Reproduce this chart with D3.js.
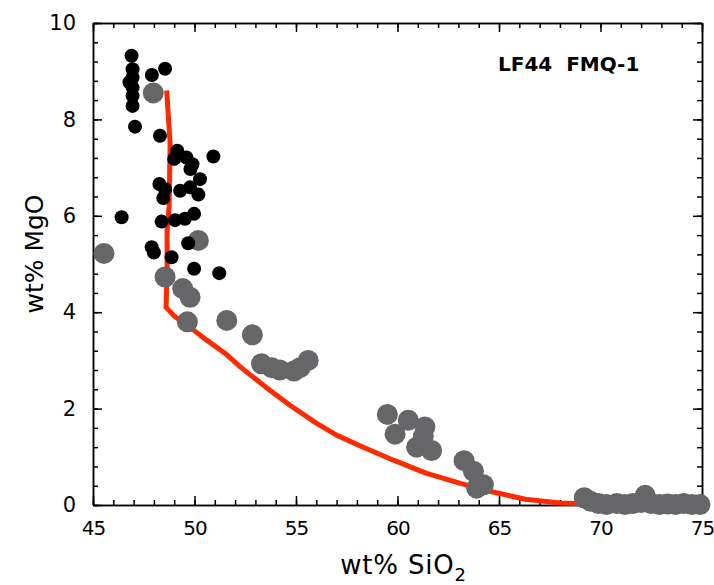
<!DOCTYPE html>
<html>
<head>
<meta charset="utf-8">
<script src="https://cdn.jsdelivr.net/npm/d3@7"></script>
<style>
    body { margin: 0; background: #fff; }
    .axis path, .axis line { stroke: #000; stroke-width: 1.5; }
    .axis text { font-family: "DejaVu Sans", sans-serif; font-size: 21px; fill: #000; }
    .x.axis text { font-size: 20px; letter-spacing: -1px; }
    .title { font-family: "DejaVu Sans", sans-serif; font-size: 25px; fill: #000; }
</style>
</head>
<body>
<script>

// black dots (sample data)
var blackSiO2 = [46.9, 46.95, 46.95, 46.8, 46.95, 46.95, 46.95, 47.9, 48.55, 47.07, 48.3,
    49.15, 49.0, 49.6, 49.9, 49.8, 50.93, 50.27, 48.27, 48.55, 49.29, 49.78, 50.19, 48.46,
    46.41, 48.38, 49.04, 49.53, 49.98, 49.69, 47.89, 48.0, 48.87, 49.98, 51.22];
var blackMgO = [9.32, 9.04, 8.87, 8.77, 8.66, 8.49, 8.28, 8.92, 9.05, 7.85, 7.66,
    7.35, 7.18, 7.21, 7.07, 6.97, 7.23, 6.76, 6.66, 6.55, 6.52, 6.59, 6.44, 6.37,
    5.97, 5.88, 5.91, 5.94, 6.04, 5.43, 5.35, 5.24, 5.14, 4.90, 4.81];

// grey dots (glasses)
var greySiO2 = [47.97, 45.54, 50.19, 48.55, 49.42, 49.78, 49.65, 51.59, 52.85,
    53.3, 53.8, 54.2, 54.9, 55.2, 55.6,
    59.5, 60.53, 59.88, 61.35, 61.27, 60.94, 61.68, 63.28, 63.74, 63.9, 64.23,
    69.2, 69.5, 69.9, 70.3, 70.8, 71.2, 71.6, 72.0, 72.2, 72.5, 72.9, 73.3, 73.7, 74.1, 74.5, 74.9];
var greyMgO = [8.55, 5.22, 5.49, 4.73, 4.49, 4.31, 3.80, 3.83, 3.53,
    2.93, 2.85, 2.80, 2.78, 2.85, 3.00,
    1.88, 1.76, 1.47, 1.62, 1.42, 1.20, 1.13, 0.92, 0.70, 0.35, 0.42,
    0.15, 0.08, 0.03, 0.01, 0.03, 0.01, 0.03, 0.05, 0.20, 0.03, 0.01, 0.02, 0.01, 0.03, 0.01, 0.01];

// model liquid line of descent (red)
var modelSiO2 = [48.63, 48.8, 48.75, 48.65, 48.65, 48.6, 49.0, 49.8, 50.6, 51.5, 52.3, 53.5,
    54.7, 56.0, 57.0, 58.2, 59.8, 61.4, 63.1, 64.7, 66.3, 68.0, 69.5];
var modelMgO = [8.6, 7.5, 6.2, 5.7, 4.9, 4.1, 3.92, 3.68, 3.42, 3.15, 2.85, 2.45,
    2.07, 1.7, 1.45, 1.22, 0.93, 0.66, 0.45, 0.27, 0.12, 0.04, 0.02];

var xTicks = [45, 50, 55, 60, 65, 70, 75];
var yTicks = [0, 2, 4, 6, 8, 10];
var label = "LF44  FMQ-1";

var margin = {top: 23, right: 12, bottom: 80, left: 93},
    width = 714 - margin.left - margin.right,
    height = 585 - margin.top - margin.bottom;

var svg = d3.select("body")
    .append("svg")
    .attr("width", 714)
    .attr("height", 585)
    .append("g")
    .attr("transform", "translate(" + margin.left + "," + margin.top + ")");

var x = d3.scaleLinear().domain([45, 75]).range([0, width]);
var y = d3.scaleLinear().domain([0, 10]).range([height, 0]);

var xMinor = d3.range(45, 75.01, 1);
var yMinor = d3.range(0, 10.01, 0.4);

// minor ticks on all four sides, pointing inwards
svg.append("g").attr("class", "axis").attr("transform", "translate(0," + height + ")")
    .call(d3.axisBottom(x).tickValues(xMinor).tickSize(-5).tickSizeOuter(0).tickFormat(""));
svg.append("g").attr("class", "axis")
    .call(d3.axisTop(x).tickValues(xMinor).tickSize(-5).tickSizeOuter(0).tickFormat(""));
svg.append("g").attr("class", "axis")
    .call(d3.axisLeft(y).tickValues(yMinor).tickSize(-5).tickSizeOuter(0).tickFormat(""));
svg.append("g").attr("class", "axis").attr("transform", "translate(" + width + ",0)")
    .call(d3.axisRight(y).tickValues(yMinor).tickSize(-5).tickSizeOuter(0).tickFormat(""));

// major ticks with labels
svg.append("g").attr("class", "x axis").attr("transform", "translate(0," + height + ")")
    .call(d3.axisBottom(x).tickValues(xTicks).tickSize(-9).tickSizeOuter(0).tickPadding(16));
svg.append("g").attr("class", "axis")
    .call(d3.axisTop(x).tickValues(xTicks).tickSize(-9).tickSizeOuter(0).tickFormat(""));
svg.append("g").attr("class", "axis")
    .call(d3.axisLeft(y).tickValues(yTicks).tickSize(-9).tickSizeOuter(0).tickPadding(17));
svg.append("g").attr("class", "axis").attr("transform", "translate(" + width + ",0)")
    .call(d3.axisRight(y).tickValues(yTicks).tickSize(-9).tickSizeOuter(0).tickFormat(""));

// the red model curve
var line = d3.line()
    .x(function(d, i) { return x(modelSiO2[i]); })
    .y(function(d, i) { return y(modelMgO[i]); });

svg.append("path")
    .datum(modelSiO2)
    .attr("d", line)
    .style("fill", "none")
    .style("stroke", "#ff2a00")
    .style("stroke-width", 5)
    .style("stroke-linejoin", "round");

// grey dots first, black dots on top
svg.selectAll(".grey")
    .data(greySiO2)
    .enter().append("circle")
    .attr("class", "grey")
    .attr("cx", function(d) { return x(d); })
    .attr("cy", function(d, i) { return y(greyMgO[i]); })
    .attr("r", 10.5)
    .style("fill", "#666668");

svg.selectAll(".black")
    .data(blackSiO2)
    .enter().append("circle")
    .attr("class", "black")
    .attr("cx", function(d) { return x(d); })
    .attr("cy", function(d, i) { return y(blackMgO[i]); })
    .attr("r", 7)
    .style("fill", "#000");

// sample label
svg.append("text")
    .attr("x", x(64.95))
    .attr("y", 48)
    .attr("xml:space", "preserve")
    .style("white-space", "pre")
    .style("font-family", "'DejaVu Sans', sans-serif")
    .style("font-weight", "bold")
    .style("font-size", "20px")
    .text(label);

// axis titles
svg.append("text")
    .attr("class", "title")
    .attr("transform", "rotate(-90)")
    .attr("x", -height / 2 + 10)
    .attr("y", -margin.left + 43)
    .style("text-anchor", "middle")
    .text("wt% MgO");

var xTitle = svg.append("text")
    .attr("class", "title")
    .attr("x", width / 2 + 6)
    .attr("y", height + 69)
    .style("text-anchor", "middle")
    .style("font-size", "26px")
    .style("letter-spacing", "0.8px");
xTitle.append("tspan").text("wt% SiO");
xTitle.append("tspan").attr("dy", 7).style("font-size", "18px").text("2");

</script>
</body>
</html>
